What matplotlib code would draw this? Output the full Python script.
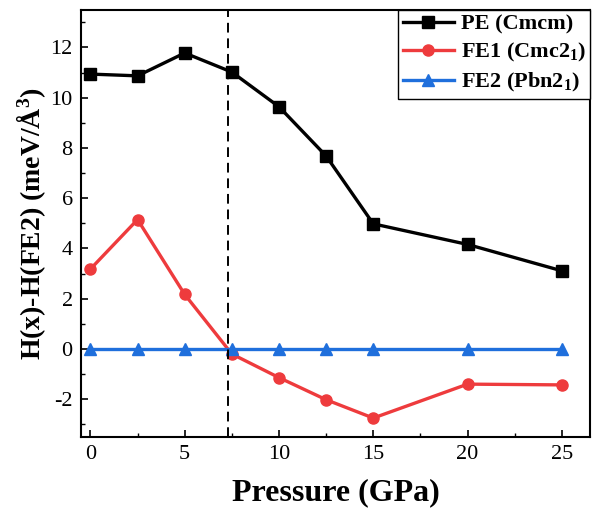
import matplotlib
matplotlib.use("Agg")
import matplotlib.pyplot as plt
from matplotlib.ticker import MultipleLocator

plt.rcParams['font.family'] = ['Liberation Serif', 'DejaVu Serif']
plt.rcParams['mathtext.fontset'] = 'custom'
plt.rcParams['mathtext.rm'] = 'Liberation Serif:bold'
plt.rcParams['mathtext.it'] = 'Liberation Serif:bold'
plt.rcParams['mathtext.bf'] = 'Liberation Serif:bold'
plt.rcParams['axes.unicode_minus'] = False

pressure = [0, 2.5, 5, 7.5, 10, 12.5, 15, 20, 25]
pe = [10.94, 10.87, 11.78, 11.02, 9.64, 7.68, 4.98, 4.16, 3.11]
fe1 = [3.18, 5.15, 2.17, -0.2, -1.14, -2.02, -2.75, -1.40, -1.43]
fe2 = [0, 0, 0, 0, 0, 0, 0, 0, 0]
transition = 7.3

labels = ['PE (Cmcm)', 'FE1 (Cmc2$_1$)', 'FE2 (Pbn2$_1$)']
colors = ['#000000', '#EE3B3D', '#1F6FDC']
markers = ['s', 'o', '^']

fig = plt.figure(figsize=(6.09, 5.14), dpi=100)
ax = fig.add_axes([0.133, 0.150, 0.836, 0.831])

for ys, lab, c, m in zip([pe, fe1, fe2], labels, colors, markers):
    ax.plot(pressure, ys, color=c, marker=m, markersize=8, linewidth=2.4, label=lab)

ax.axvline(transition, color='black', linestyle=(0, (5, 3)), linewidth=1.4)

ax.set_xlim(-0.5, 26.5)
ax.set_ylim(-3.5, 13.5)
ax.xaxis.set_major_locator(MultipleLocator(5))
ax.xaxis.set_minor_locator(MultipleLocator(2.5))
ax.yaxis.set_major_locator(MultipleLocator(2))
ax.yaxis.set_minor_locator(MultipleLocator(1))
ax.tick_params(which='major', direction='in', length=5, width=1.2, labelsize=16, pad=6)
ax.tick_params(which='minor', direction='in', length=3, width=1.0)
for s in ax.spines.values():
    s.set_linewidth(1.5)

ax.set_xlabel('Pressure (GPa)', fontsize=23, fontweight='bold', labelpad=10)
ax.set_ylabel('H(x)-H(FE2) (meV/Å$^3$)', fontsize=20, fontweight='bold', labelpad=2)

leg = ax.legend(loc='upper right', prop={'weight': 'bold', 'size': 16},
                frameon=True, fancybox=False, edgecolor='black', framealpha=1,
                handlelength=2.3, handletextpad=0.3, borderaxespad=0.0,
                labelspacing=0.3, borderpad=0.2)
leg.get_frame().set_linewidth(1.0)

fig.savefig('out.png', dpi=100)
